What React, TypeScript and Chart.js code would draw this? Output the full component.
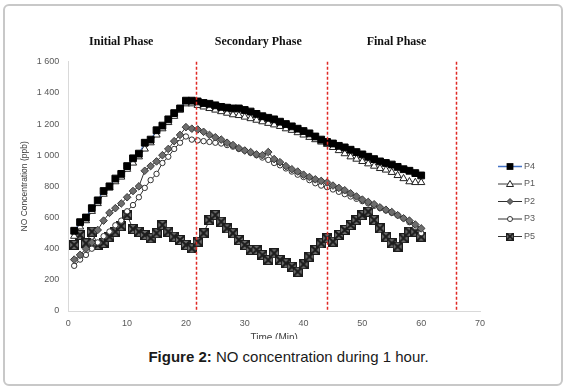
import React, { useEffect, useRef } from 'react';
import { Chart, registerables } from 'chart.js';

Chart.register(...registerables);

// ---- data ----
const times = [
  1, 2, 3, 4, 5, 6, 7, 8, 9, 10, 11, 12, 13, 14, 15, 16, 17, 18, 19, 20,
  21, 22, 23, 24, 25, 26, 27, 28, 29, 30, 31, 32, 33, 34, 35, 36, 37, 38, 39, 40,
  41, 42, 43, 44, 45, 46, 47, 48, 49, 50, 51, 52, 53, 54, 55, 56, 57, 58, 59, 60,
];

const p4 = [
  515, 570, 600, 660, 710, 770, 800, 850, 880, 930, 980, 1010, 1080, 1100, 1160, 1190, 1230, 1270, 1300, 1350,
  1350, 1345, 1335, 1330, 1320, 1310, 1305, 1300, 1300, 1290, 1280, 1265, 1250, 1240, 1230, 1215, 1200, 1185, 1170, 1155,
  1140, 1120, 1100, 1085, 1075, 1060, 1050, 1035, 1020, 1005, 990, 975, 960, 950, 940, 925, 910, 900, 885, 870,
];

const p1 = [
  480, 540, 580, 640, 690, 750, 790, 830, 860, 910, 950, 990, 1040, 1080, 1130, 1170, 1210, 1250, 1290, 1330,
  1330, 1320, 1310, 1300, 1290, 1280, 1270, 1260, 1255, 1245, 1235, 1225, 1215, 1205, 1195, 1185, 1170, 1160, 1145, 1130,
  1115, 1100, 1085, 1070, 1050, 1030, 1010, 990, 975, 960, 945, 930, 915, 905, 890, 870, 850, 830, 825, 825,
];

const p2 = [
  330, 360, 400, 440, 520, 580, 630, 660, 690, 730, 770, 800, 900, 930, 960, 1000, 1040, 1090, 1130, 1180,
  1170, 1165, 1150, 1130, 1115, 1100, 1080, 1065, 1045, 1030, 1020, 1005, 1000, 1020, 975, 955, 930, 910, 895, 875,
  860, 845, 835, 825, 805, 790, 775, 755, 735, 715, 700, 685, 665, 650, 635, 615, 595, 580, 555, 530,
];

const p3 = [
  290, 330, 360, 400, 440, 480, 510, 550, 580, 640, 680, 730, 790, 840, 880, 950, 990, 1040, 1080, 1120,
  1100, 1095, 1090, 1085, 1080, 1075, 1065, 1055, 1040, 1030, 1015, 1000, 985, 970, 950, 935, 915, 895, 875, 860,
  840, 820, 805, 795, 780, 765, 750, 735, 720, 705, 690, 675, 660, 645, 630, 615, 595, 570, 540, 500,
];

const p5 = [
  424, 488, 434, 509, 424, 437, 477, 509, 545, 616, 526, 509, 488, 467, 499, 552, 509, 477, 456, 424,
  402, 445, 499, 584, 616, 573, 530, 499, 456, 424, 392, 392, 359, 327, 370, 327, 306, 284, 252, 300,
  349, 392, 434, 467, 445, 488, 520, 552, 584, 616, 637, 584, 530, 477, 435, 413, 467, 509, 509, 477,
];

const seriesNames = ['P4', 'P1', 'P2', 'P3', 'P5'];
const yTickValues = [0, 200, 400, 600, 800, 1000, 1200, 1400, 1600];
const xTickValues = [0, 10, 20, 30, 40, 50, 60, 70];
const phaseBoundaries = [21.7, 44, 66];
const phaseNames = ['Initial Phase', 'Secondary Phase', 'Final Phase'];
const phaseCenters = [9.0, 32.3, 55.8];
const xAxisTitle = 'Time (Min)';
const yAxisTitle = 'NO Concentration (ppb)';

const FONT = '"Liberation Sans", Arial, sans-serif';

function makeP5Marker(): HTMLCanvasElement {
  const c = document.createElement('canvas');
  c.width = 10;
  c.height = 10;
  const g = c.getContext('2d')!;
  g.fillStyle = '#6e6e6e';
  g.fillRect(0, 0, 10, 10);
  g.strokeStyle = '#1c1c1c';
  g.lineWidth = 1;
  g.strokeRect(0.5, 0.5, 9, 9);
  g.lineWidth = 2;
  g.beginPath();
  g.moveTo(0, 0);
  g.lineTo(10, 10);
  g.moveTo(10, 0);
  g.lineTo(0, 10);
  g.stroke();
  return c;
}

function drawLegendMarker(ctx: CanvasRenderingContext2D, kind: string, x: number, y: number, img: HTMLCanvasElement) {
  ctx.save();
  ctx.setLineDash([]);
  ctx.lineWidth = 1;
  if (kind === 'rect') {
    ctx.fillStyle = '#000';
    ctx.fillRect(x - 3.4, y - 3.4, 6.8, 6.8);
  } else if (kind === 'triangle') {
    ctx.fillStyle = '#fff';
    ctx.strokeStyle = '#222';
    ctx.beginPath();
    ctx.moveTo(x, y - 3.5);
    ctx.lineTo(x + 3.5, y + 2.5);
    ctx.lineTo(x - 3.5, y + 2.5);
    ctx.closePath();
    ctx.fill();
    ctx.stroke();
  } else if (kind === 'rectRot') {
    ctx.fillStyle = '#6d6d6d';
    ctx.strokeStyle = '#3a3a3a';
    ctx.beginPath();
    ctx.moveTo(x, y - 3);
    ctx.lineTo(x + 3, y);
    ctx.lineTo(x, y + 3);
    ctx.lineTo(x - 3, y);
    ctx.closePath();
    ctx.fill();
    ctx.stroke();
  } else if (kind === 'circle') {
    ctx.fillStyle = '#fff';
    ctx.strokeStyle = '#333';
    ctx.beginPath();
    ctx.arc(x, y, 2.5, 0, Math.PI * 2);
    ctx.fill();
    ctx.stroke();
  } else {
    ctx.drawImage(img, x - 4, y - 4, 8, 8);
  }
  ctx.restore();
}

export default function App() {
  const canvasRef = useRef<HTMLCanvasElement | null>(null);

  useEffect(() => {
    const canvas = canvasRef.current;
    if (!canvas) return;
    const p5Img = makeP5Marker();
    const series = [p4, p1, p2, p3, p5];
    const lineColors = ['#4472c4', '#3a3a3a', '#303030', '#303030', '#333333'];
    const styles: any[] = ['rect', 'triangle', 'rectRot', 'circle', p5Img];
    const radii = [4.8, 4.2, 3.8, 2.7, 5];
    const fills = ['#000000', '#ffffff', '#6d6d6d', '#ffffff', '#6e6e6e'];
    const strokes = ['#000000', '#222222', '#3a3a3a', '#333333', '#222222'];

    const datasets = series.map((vals, i) => ({
      label: seriesNames[i],
      data: times.map((t, j) => ({ x: t, y: vals[j] })),
      borderColor: lineColors[i],
      borderWidth: 1,
      pointStyle: styles[i],
      pointRadius: radii[i],
      pointBackgroundColor: fills[i],
      pointBorderColor: strokes[i],
      pointBorderWidth: 1,
      fill: false,
      tension: 0,
    }));

    const overlay = {
      id: 'overlay',
      afterDatasetsDraw(chart: any) {
        const { ctx, chartArea, scales } = chart;
        const xs = scales.x;
        ctx.save();
        ctx.strokeStyle = '#e02a25';
        ctx.lineWidth = 1.5;
        ctx.setLineDash([3, 2]);
        phaseBoundaries.forEach((b) => {
          const px = Math.round(xs.getPixelForValue(b)) + 0.5;
          ctx.beginPath();
          ctx.moveTo(px, chartArea.top);
          ctx.lineTo(px, chartArea.bottom);
          ctx.stroke();
        });
        ctx.restore();
      },
      afterDraw(chart: any) {
        const { ctx, scales } = chart;
        const xs = scales.x;
        ctx.save();
        ctx.fillStyle = '#111';
        ctx.font = `bold 12px "Liberation Serif", "Times New Roman", serif`;
        ctx.textAlign = 'center';
        ctx.textBaseline = 'middle';
        phaseNames.forEach((n, i) => {
          ctx.fillText(n, xs.getPixelForValue(phaseCenters[i]), 12);
        });
        // legend
        const legendTop = 136;
        const step = 17.5;
        ctx.font = `9px ${FONT}`;
        ctx.textAlign = 'left';
        seriesNames.forEach((name, i) => {
          const y = legendTop + i * step;
          ctx.strokeStyle = lineColors[i];
          ctx.lineWidth = i === 0 ? 1.5 : 1;
          ctx.setLineDash([]);
          ctx.beginPath();
          ctx.moveTo(488, y + 0.5);
          ctx.lineTo(512, y + 0.5);
          ctx.stroke();
          drawLegendMarker(ctx, typeof styles[i] === 'string' ? styles[i] : 'img', 500, y + 0.5, p5Img);
          ctx.fillStyle = '#595959';
          ctx.fillText(name, 514, y + 0.5);
        });
        ctx.restore();
      },
    };

    const chart = new Chart(canvas, {
      type: 'line',
      data: { datasets },
      options: {
        responsive: false,
        animation: false,
        devicePixelRatio: 1,
        layout: { padding: { left: 0, right: 80, top: 31.7, bottom: 0 } },
        plugins: {
          legend: { display: false },
          tooltip: { enabled: false },
        },
        scales: {
          x: {
            type: 'linear',
            min: 0,
            max: 70,
            afterBuildTicks: (s: any) => {
              s.ticks = xTickValues.map((v) => ({ value: v }));
            },
            afterFit: (s: any) => {
              s.height = 39;
            },
            ticks: { color: '#595959', font: { family: FONT, size: 9 }, padding: 7, maxRotation: 0 },
            grid: { drawOnChartArea: false, drawTicks: false },
            border: { display: true, color: '#d9d9d9', width: 1 },
            title: {
              display: true,
              text: xAxisTitle,
              color: '#404040',
              font: { family: FONT, size: 10 },
              padding: { top: 0, bottom: 5.5 },
            },
          },
          y: {
            type: 'linear',
            min: 0,
            max: 1600,
            afterBuildTicks: (s: any) => {
              s.ticks = yTickValues.map((v) => ({ value: v }));
            },
            afterFit: (s: any) => {
              s.width = 58.3;
            },
            ticks: {
              color: '#595959',
              font: { family: FONT, size: 9 },
              padding: 9,
              callback: (v: any) => {
                const n = Number(v);
                if (n >= 1000) return `${Math.floor(n / 1000)} ${String(n % 1000).padStart(3, '0')}`;
                return String(n);
              },
            },
            grid: { drawOnChartArea: false, drawTicks: false },
            border: { display: true, color: '#d9d9d9', width: 1 },
            title: {
              display: true,
              text: yAxisTitle,
              color: '#404040',
              font: { family: FONT, size: 8.5 },
              padding: { top: 10, bottom: 0 },
            },
          },
        },
      },
      plugins: [overlay],
    } as any);

    return () => chart.destroy();
  }, []);

  return (
    <div style={{ position: 'absolute', left: 0, top: 0, width: 568, height: 388, background: '#fff', overflow: 'hidden' }}>
      <div
        style={{
          position: 'absolute',
          left: 3,
          top: 4,
          width: 560,
          height: 382,
          boxSizing: 'border-box',
          border: '2px solid #c8c8c8',
          borderRadius: 6,
        }}
      />
      <div style={{ position: 'absolute', left: 10, top: 30, width: 550, height: 309, overflow: 'hidden' }}>
        <canvas ref={canvasRef} width={550} height={320} style={{ display: 'block' }} />
      </div>
      <div
        style={{
          position: 'absolute',
          left: 0,
          top: 348,
          width: 577,
          textAlign: 'center',
          fontFamily: FONT,
          fontSize: 15,
          lineHeight: '17px',
          color: '#1a1a1a',
        }}
      >
        <b>Figure 2:</b> NO concentration during 1 hour.
      </div>
    </div>
  );
}
